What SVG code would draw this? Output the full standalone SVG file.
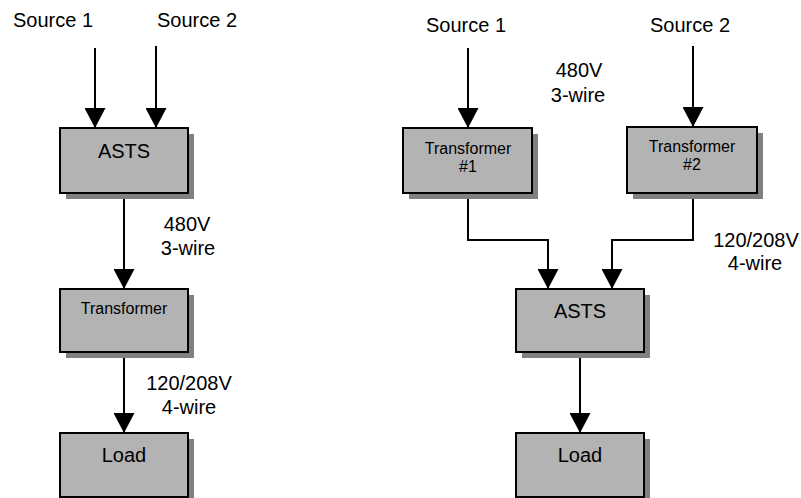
<svg xmlns="http://www.w3.org/2000/svg" width="801" height="498" viewBox="0 0 801 498">
<defs>
<style>
.sh{fill:#808080;stroke:none}
.bx{fill:#b3b3b3;stroke:#000;stroke-width:2}
.t{font-family:"Liberation Sans",Arial,sans-serif;font-size:20px;fill:#000;text-anchor:middle}
.s{font-size:16px}
.c{fill:none;stroke:#000;stroke-width:2}
</style>
<marker id="ah" markerUnits="userSpaceOnUse" markerWidth="22" markerHeight="21" refX="20" refY="10.5" orient="auto" viewBox="0 0 20 21">
<path d="M0,0 L20,10.5 L0,21 Z" fill="#000"/>
</marker>
</defs>
<rect width="801" height="498" fill="#fff"/>
<g id="connectors">
<line class="c" x1="95" y1="48" x2="95" y2="128" marker-end="url(#ah)"/>
<line class="c" x1="156" y1="46" x2="156" y2="128" marker-end="url(#ah)"/>
<line class="c" x1="124" y1="193" x2="124" y2="289" marker-end="url(#ah)"/>
<line class="c" x1="124" y1="352" x2="124" y2="433" marker-end="url(#ah)"/>
<line class="c" x1="468" y1="48" x2="468" y2="128" marker-end="url(#ah)"/>
<line class="c" x1="693" y1="46" x2="693" y2="127" marker-end="url(#ah)"/>
<polyline class="c" points="468,193 468,240 548,240 548,289" marker-end="url(#ah)"/>
<polyline class="c" points="693,193 693,240 612,240 612,289" marker-end="url(#ah)"/>
<line class="c" x1="580" y1="352" x2="580" y2="433" marker-end="url(#ah)"/>
</g>
<g id="labels">
<text class="t" x="53" y="27">Source 1</text>
<text class="t" x="197" y="27">Source 2</text>
<text class="t" x="187" y="231">480V</text>
<text class="t" x="188" y="255">3-wire</text>
<text class="t" x="189" y="390">120/208V</text>
<text class="t" x="189" y="414">4-wire</text>
<text class="t" x="466" y="32">Source 1</text>
<text class="t" x="690" y="32">Source 2</text>
<text class="t" x="579" y="77">480V</text>
<text class="t" x="578" y="102">3-wire</text>
<text class="t" x="756" y="247">120/208V</text>
<text class="t" x="755" y="270">4-wire</text>
</g>
<g id="asts-left">
<rect class="sh" x="66" y="134" width="128" height="65"/>
<rect class="bx" x="60" y="128" width="128" height="65"/>
<text class="t" x="124" y="158">ASTS</text>
</g>
<g id="transformer-left">
<rect class="sh" x="66" y="295" width="128" height="63"/>
<rect class="bx" x="60" y="289" width="128" height="63"/>
<text class="t s" x="124" y="314">Transformer</text>
</g>
<g id="load-left">
<rect class="sh" x="66" y="439" width="128" height="64"/>
<rect class="bx" x="60" y="433" width="128" height="64"/>
<text class="t" x="124" y="462">Load</text>
</g>
<g id="transformer-1">
<rect class="sh" x="409" y="134" width="129" height="65"/>
<rect class="bx" x="403" y="128" width="129" height="65"/>
<text class="t s" x="468" y="154">Transformer</text>
<text class="t s" x="468" y="172">#1</text>
</g>
<g id="transformer-2">
<rect class="sh" x="633" y="133" width="130" height="66"/>
<rect class="bx" x="627" y="127" width="130" height="66"/>
<text class="t s" x="692" y="152">Transformer</text>
<text class="t s" x="692" y="170">#2</text>
</g>
<g id="asts-right">
<rect class="sh" x="522" y="295" width="128" height="63"/>
<rect class="bx" x="516" y="289" width="128" height="63"/>
<text class="t" x="580" y="318">ASTS</text>
</g>
<g id="load-right">
<rect class="sh" x="522" y="439" width="128" height="64"/>
<rect class="bx" x="516" y="433" width="128" height="64"/>
<text class="t" x="580" y="462">Load</text>
</g>
</svg>
